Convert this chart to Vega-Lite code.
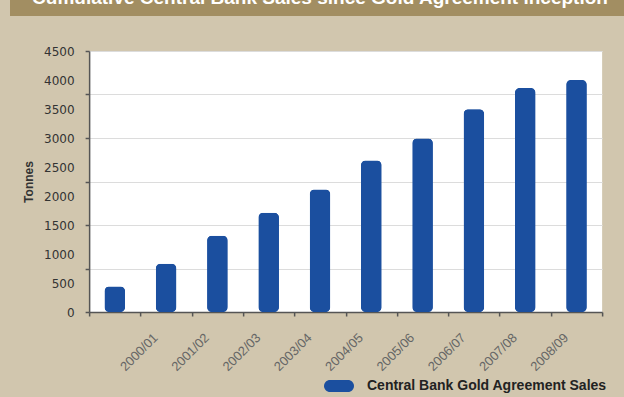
{
  "$schema": "https://vega.github.io/schema/vega-lite/v6.json",
  "background": "#d1c6ae",
  "autosize": {"type": "none"},
  "padding": {"left": 10, "top": 0, "right": 614, "bottom": 397},
  "spacing": 29,
  "center": true,
  "datasets": {
    "header": [{"title": "Cumulative Central Bank Sales since Gold Agreement inception"}],
    "sales": [
      {"season": "1999/00", "tonnes": 440, "series": "Central Bank Gold Agreement Sales"},
      {"season": "2000/01", "tonnes": 830, "series": "Central Bank Gold Agreement Sales"},
      {"season": "2001/02", "tonnes": 1315, "series": "Central Bank Gold Agreement Sales"},
      {"season": "2002/03", "tonnes": 1710, "series": "Central Bank Gold Agreement Sales"},
      {"season": "2003/04", "tonnes": 2110, "series": "Central Bank Gold Agreement Sales"},
      {"season": "2004/05", "tonnes": 2610, "series": "Central Bank Gold Agreement Sales"},
      {"season": "2005/06", "tonnes": 2990, "series": "Central Bank Gold Agreement Sales"},
      {"season": "2006/07", "tonnes": 3495, "series": "Central Bank Gold Agreement Sales"},
      {"season": "2007/08", "tonnes": 3860, "series": "Central Bank Gold Agreement Sales"},
      {"season": "2008/09", "tonnes": 4000, "series": "Central Bank Gold Agreement Sales"}
    ]
  },
  "vconcat": [
    {
      "width": 672,
      "height": 16,
      "view": {"fill": "#a28e62", "stroke": null},
      "data": {"name": "header"},
      "mark": {"type": "text", "color": "white", "font": "Liberation Sans", "fontSize": 19, "fontWeight": "bold", "baseline": "alphabetic", "dy": -4.5, "dx": -26, "clip": true},
      "encoding": {"text": {"field": "title", "type": "nominal"}}
    },
    {
      "width": 513,
      "height": 261,
      "view": {"fill": "white", "stroke": null},
      "data": {"name": "sales"},
      "layer": [
        {
          "mark": {"type": "bar", "cornerRadius": 5, "width": {"band": 0.4}},
          "encoding": {
            "x": {
              "field": "season", "type": "ordinal", "sort": null,
              "scale": {"paddingInner": 0, "paddingOuter": 0},
              "axis": {
                "title": null, "tickBand": "extent", "ticks": true, "tickSize": 4, "tickColor": "#555", "tickWidth": 1.5,
                "domainColor": "#555", "domainWidth": 1.5, "labelAngle": -45, "labelFont": "Liberation Sans",
                "labelFontSize": 13, "labelColor": "#666", "labelPadding": 15, "labelOffset": -15,
                "labelExpr": "datum.value == '1999/00' ? '' : datum.value", "grid": false
              }
            },
            "y": {
              "field": "tonnes", "type": "quantitative",
              "scale": {"domain": [0, 4500]},
              "axis": {
                "orient": "left", "values": [0, 500, 1000, 1500, 2000, 2500, 3000, 3500, 4000, 4500], "format": "d",
                "ticks": false, "tickSize": 0, "grid": false, "domain": true, "domainColor": "#555", "domainWidth": 1.5,
                "labelFont": "DejaVu Sans", "labelFontSize": 12, "labelColor": "#333", "labelPadding": 15,
                "title": "Tonnes", "titleFont": "Liberation Sans", "titleFontSize": 12, "titleFontWeight": "bold",
                "titleColor": "#333", "titlePadding": 8
              }
            },
            "color": {
              "field": "series", "type": "nominal",
              "scale": {"range": ["#1b4f9f"]},
              "legend": {
                "orient": "none", "legendX": 314, "legendY": 371, "title": null,
                "symbolType": "M-0.6,-0.4H0.6A0.4,0.4 0 0 1 0.6,0.4H-0.6A0.4,0.4 0 0 1 -0.6,-0.4Z",
                "symbolSize": 900, "symbolStrokeWidth": 0, "symbolOpacity": 1,
                "labelFont": "Liberation Sans", "labelFontSize": 14, "labelFontWeight": "bold",
                "labelColor": "#222", "labelOffset": 13, "labelLimit": 400, "padding": 0
              }
            }
          }
        },
        {
          "mark": {"type": "bar", "cornerRadius": 5, "width": {"band": 0.4}, "color": "#1b4f9f"},
          "encoding": {
            "x": {
              "field": "season", "type": "ordinal", "sort": null,
              "axis": {
                "title": null, "tickBand": "extent", "ticks": true, "tickSize": 4, "tickColor": "#555", "tickWidth": 1.5,
                "domainColor": "#555", "domainWidth": 1.5, "labelAngle": -45, "labelFont": "Liberation Sans",
                "labelFontSize": 13, "labelColor": "#666", "labelPadding": 15, "labelOffset": -15,
                "labelExpr": "datum.value == '1999/00' ? '' : datum.value", "grid": false
              }
            },
            "y": {
              "field": "tonnes", "type": "quantitative",
              "axis": {
                "orient": "left", "values": [0, 750, 1500, 2250, 3000, 3750, 4500],
                "labels": false, "ticks": true, "tickSize": 4, "tickColor": "#555", "tickWidth": 1.5,
                "grid": true, "gridColor": "#dcdcdc", "gridWidth": 1, "domain": false, "title": null
              }
            }
          }
        }
      ],
      "resolve": {"axis": {"y": "independent"}}
    }
  ]
}
